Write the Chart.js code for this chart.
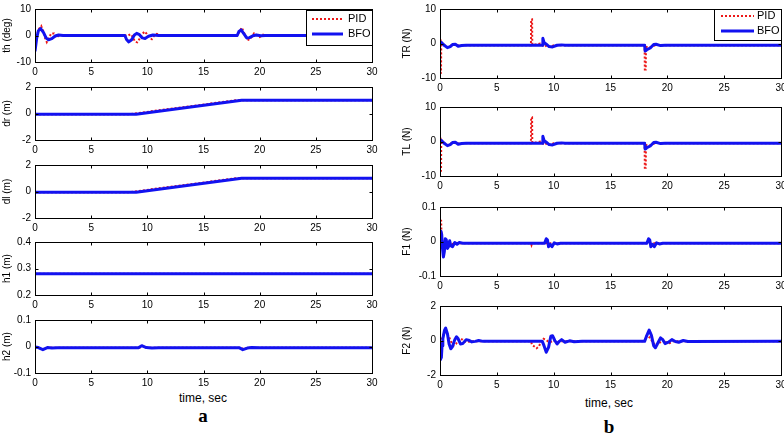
<!DOCTYPE html>
<html>
<head>
<meta charset="utf-8">
<script src="https://cdn.jsdelivr.net/npm/chart.js@4/dist/chart.umd.min.js"></script>
<style>
  body { margin: 0; background: #fff; width: 784px; height: 439px; position: relative; overflow: hidden; font-family: "Liberation Sans", Arial, sans-serif; }
  canvas { position: absolute; }
  .cap { position: absolute; transform: translate(-50%, -50%); white-space: nowrap; color: #000; }
  .xt { font-size: 12px; }
  .pl { font-family: "Liberation Serif", "DejaVu Serif", serif; font-weight: bold; font-size: 19px; }
</style>
</head>
<body>
<div class="cap xt" style="left:203px;top:398px">time, sec</div>
<div class="cap pl" style="left:203px;top:416px">a</div>
<div class="cap xt" style="left:609px;top:403px">time, sec</div>
<div class="cap pl" style="left:609px;top:427px">b</div>
<script>
// ---- data: [time (s), value] ----
const timeTicks = [0, 5, 10, 15, 20, 25, 30];

const thTicks = [-10, 0, 10];
const thPID = [[0,-5],[0.15,0],[0.35,2.5],[0.55,3.6],[0.75,1.5],[0.9,-1],[1.05,-2.5],[1.25,-0.8],[1.45,0.8],[1.7,0.8],[1.9,-0.8],[2.2,0.3],[2.6,-0.1],[3,0],
  [8.3,0],[8.5,0.5],[8.7,-0.5],[8.9,-2.3],[9.1,-2.6],[9.35,-1],[9.55,0.5],[9.75,1.5],[9.95,0.6],[10.2,-0.8],[10.4,-1.4],[10.65,0.2],[10.85,0.6],[11.1,0],
  [18,0],[18.2,1.5],[18.4,3],[18.6,1.2],[18.8,-1],[19,-1.6],[19.25,-0.8],[19.5,0.8],[19.75,0.2],[20,-0.6],[20.3,0.3],[20.6,-0.1],[21,0],[30,0]];
const thBFO = [[0,-6],[0.15,-1],[0.3,1.8],[0.5,2.6],[0.75,1.2],[1,-1],[1.2,-1.6],[1.5,-1.2],[1.8,-0.2],[2.1,0.2],[2.5,0],
  [8,0],[8.15,-1.5],[8.35,-2.4],[8.6,-1.6],[8.85,0.2],[9.05,0.8],[9.3,0.3],[9.55,-0.9],[9.8,-1.1],[10.1,-0.3],[10.5,0.2],[11,0],
  [18,0],[18.15,1.5],[18.35,2.1],[18.6,0.6],[18.85,-0.9],[19.1,-0.8],[19.4,-0.1],[19.7,0.2],[20.1,-0.1],[20.5,0],[30,0]];

const drTicks = [-2, 0, 2];
const drPID = [[0,-0.05],[8.4,-0.05],[17.9,1],[30,1]];
const drBFO = [[0,-0.05],[9,-0.05],[18.4,1],[30,1]];

const dlTicks = [-2, 0, 2];
const dlPID = [[0,-0.05],[8.4,-0.05],[17.9,1],[30,1]];
const dlBFO = [[0,-0.05],[9,-0.05],[18.4,1],[30,1]];

const h1Ticks = [0.2, 0.3, 0.4];
const h1PID = [[0,0.28],[30,0.28]];
const h1BFO = [[0,0.28],[30,0.28]];

const h2Ticks = [-0.1, 0, 0.1];
const h2PID = [[0,-0.002],[0.7,-0.01],[1.2,-0.004],[2,-0.005],[9.3,-0.005],[9.6,0.002],[10,-0.005],[18.3,-0.005],[18.6,-0.01],[19,-0.004],[19.5,-0.006],[20,-0.005],[30,-0.005]];
const h2BFO = [[0,-0.002],[0.3,-0.004],[0.7,-0.012],[1.1,-0.004],[1.5,-0.006],[2,-0.005],[9.2,-0.005],[9.5,0.003],[9.9,-0.004],[10.4,-0.006],[11,-0.005],
  [18.2,-0.005],[18.5,-0.012],[18.9,-0.006],[19.3,-0.004],[20,-0.005],[30,-0.005]];

const trTicks = [-10, 0, 10];
const trPID = [[0,1],[0.03,1],[0.05,-8.5],[0.09,-8.5],[0.11,0.5],[0.2,0],[0.5,-0.8],[0.8,-1.2],[1,-0.5],[1.3,-0.3],[1.6,-0.6],[2,-0.5],
  [8,-0.5],[8.02,7],[8.1,7],[8.12,-0.3],[8.5,-0.3],[8.8,0],[9,-0.5],[9.2,-1],[9.4,-0.5],[9.7,-1],[10,-0.5],
  [18,-0.5],[18.02,-7.5],[18.1,-7.5],[18.12,-1],[18.4,-1.2],[18.7,-0.8],[19,-0.4],[19.4,-0.5],[30,-0.5]];
const trBFO = [[0,0.5],[0.15,0.2],[0.4,-0.6],[0.65,-1.2],[0.9,-0.9],[1.1,-0.3],[1.35,-0.2],[1.6,-0.8],[1.9,-0.6],[2.3,-0.5],
  [9,-0.5],[9.05,1.5],[9.15,0.3],[9.35,-0.2],[9.6,-0.9],[9.9,-1],[10.3,-0.5],[10.7,-0.4],[11,-0.5],
  [18,-0.5],[18.05,-2.2],[18.2,-1.8],[18.5,-1.3],[18.8,-0.3],[19,-0.2],[19.4,-0.6],[19.8,-0.5],[30,-0.5]];

const tlTicks = [-10, 0, 10];
const tlPID = [[0,0.9],[0.03,0.9],[0.05,-8.5],[0.09,-8.5],[0.11,0.5],[0.2,0],[0.5,-0.8],[0.8,-1.2],[1,-0.5],[1.3,-0.3],[1.6,-0.6],[2,-0.5],
  [8,-0.5],[8.02,7],[8.1,7],[8.12,-0.3],[8.5,-0.3],[8.8,0],[9,-0.5],[9.2,-1],[9.4,-0.5],[9.7,-1],[10,-0.5],
  [18,-0.5],[18.02,-7.6],[18.1,-7.6],[18.12,-1],[18.4,-1.2],[18.7,-0.8],[19,-0.4],[19.4,-0.5],[30,-0.5]];
const tlBFO = [[0,0.5],[0.15,0.2],[0.4,-0.6],[0.65,-1.2],[0.9,-0.9],[1.1,-0.3],[1.35,-0.2],[1.6,-0.8],[1.9,-0.6],[2.3,-0.5],
  [9,-0.5],[9.05,1.5],[9.15,0.3],[9.35,-0.2],[9.6,-0.9],[9.9,-1],[10.3,-0.5],[10.7,-0.4],[11,-0.5],
  [18,-0.5],[18.05,-2.2],[18.2,-1.8],[18.5,-1.3],[18.8,-0.3],[19,-0.2],[19.4,-0.6],[19.8,-0.5],[30,-0.5]];

const f1Ticks = [-0.1, 0, 0.1];
const f1PID = [[0,0],[0.04,0.06],[0.1,0.06],[0.16,-0.02],[0.22,0],[0.3,-0.03],[0.42,0],[0.6,-0.015],[0.9,-0.01],[1.2,-0.006],[2,-0.005],
  [8,-0.005],[8.05,-0.01],[8.1,-0.005],[30,-0.005]];
const f1BFO = [[0,0],[0.08,0.03],[0.15,0.02],[0.22,-0.02],[0.3,-0.045],[0.38,-0.03],[0.47,0.008],[0.55,0.005],[0.65,-0.02],[0.75,-0.015],[0.85,0.002],[0.95,-0.012],
  [1.1,-0.015],[1.3,-0.003],[1.5,-0.008],[1.7,-0.003],[2,-0.005],
  [9.2,-0.005],[9.35,0.008],[9.45,0.005],[9.55,-0.015],[9.7,-0.008],[9.85,-0.015],[10.05,-0.004],[10.3,-0.007],[10.6,-0.005],
  [18.2,-0.005],[18.35,0.008],[18.45,0.005],[18.55,-0.015],[18.7,-0.008],[18.85,-0.015],[19.05,-0.004],[19.3,-0.007],[19.6,-0.005],[30,-0.005]];

const f2Ticks = [-2, 0, 2];
const f2PID = [[0,-0.4],[0.2,0.2],[0.4,0.5],[0.6,0.45],[0.8,0.2],[1,-0.1],[1.2,-0.3],[1.4,-0.2],[1.7,0.1],[2,0.05],[2.3,-0.1],[2.7,-0.05],
  [8,-0.05],[8.1,-0.25],[8.3,-0.35],[8.5,-0.45],[8.7,-0.35],[8.9,-0.05],[9.1,0.1],[9.3,0.05],[9.5,-0.05],[9.7,-0.1],[10,0],[10.3,-0.1],[10.7,-0.05],
  [18,-0.05],[18.2,0.3],[18.5,0.15],[18.7,-0.1],[19,-0.3],[19.3,-0.15],[19.6,0.05],[19.9,-0.1],[20.2,-0.15],[20.5,-0.05],[30,-0.05]];
const f2BFO = [[0,-0.2],[0.03,-1.1],[0.08,-0.4],[0.12,-1],[0.18,-0.3],[0.25,0.1],[0.4,0.6],[0.5,0.72],[0.65,0.4],[0.8,-0.2],[0.95,-0.48],[1.1,-0.35],
  [1.3,0.05],[1.45,0.22],[1.6,0.1],[1.8,-0.2],[2,-0.18],[2.3,0.05],[2.5,0.02],[2.8,-0.08],[3.1,-0.05],[3.4,0],[3.8,-0.05],
  [9,-0.05],[9.15,-0.3],[9.35,-0.68],[9.55,-0.4],[9.75,0.25],[9.9,0.28],[10.1,0],[10.3,-0.2],[10.5,-0.05],[10.7,0.05],[11,-0.1],[11.4,-0.02],[11.8,-0.07],[12.5,-0.05],
  [18,-0.05],[18.2,0.3],[18.4,0.6],[18.6,0.3],[18.8,-0.3],[18.95,-0.42],[19.2,-0.1],[19.4,0.15],[19.6,0.05],[19.8,-0.18],[20.1,-0.1],[20.4,0.05],[20.7,-0.06],
  [21,-0.1],[21.4,0],[21.8,-0.06],[30,-0.05]];

// ---- drawing ----
const FONT = "'Liberation Sans', Arial, sans-serif";
const RED = 'rgb(236,24,24)';
const BLUE = 'rgb(18,18,240)';

// matlab style box with inward ticks, plus optional legend
const boxPlugin = {
  id: 'matlabBox',
  afterDatasetsDraw(chart, args, opts) {
    const { ctx, chartArea: a, scales: { x, y } } = chart;
    const L = Math.round(a.left) + 0.5, R = Math.round(a.right) + 0.5;
    const T = Math.round(a.top) + 0.5, B = Math.round(a.bottom) + 0.5;
    ctx.save();
    ctx.strokeStyle = '#000';
    ctx.lineWidth = 1;
    ctx.beginPath();
    x.ticks.forEach(t => {
      const p = Math.round(x.getPixelForValue(t.value)) + 0.5;
      ctx.moveTo(p, B); ctx.lineTo(p, B - 3);
      ctx.moveTo(p, T); ctx.lineTo(p, T + 3);
    });
    y.ticks.forEach(t => {
      const p = Math.round(y.getPixelForValue(t.value)) + 0.5;
      ctx.moveTo(L, p); ctx.lineTo(L + 3, p);
      ctx.moveTo(R, p); ctx.lineTo(R - 3, p);
    });
    ctx.stroke();
    ctx.strokeRect(L, T, R - L, B - T);

    const lg = opts.legend;
    if (lg) {
      const bx = lg.x - chart.canvas.offsetLeft, by = lg.y - chart.canvas.offsetTop;
      ctx.fillStyle = '#fff';
      ctx.fillRect(bx, by, lg.w, lg.h);
      ctx.strokeRect(Math.round(bx) + 0.5, Math.round(by) + 0.5, lg.w, lg.h);
      chart.data.datasets.forEach((ds, i) => {
        const ly = by + lg.rows[i];
        ctx.setLineDash(ds.borderDash || []);
        ctx.strokeStyle = ds.borderColor;
        ctx.lineWidth = ds.borderWidth;
        ctx.beginPath();
        ctx.moveTo(bx + lg.s0, ly); ctx.lineTo(bx + lg.s1, ly);
        ctx.stroke();
        ctx.setLineDash([]);
        ctx.fillStyle = '#000';
        ctx.font = '11px ' + FONT;
        ctx.textBaseline = 'middle';
        ctx.fillText(ds.label, bx + lg.tx, ly);
      });
    }
    ctx.restore();
  }
};

function plot(p) {
  const padT = 6, xH = 20;
  const w = p.right - p.panel + p.padR;
  const h = padT + p.height + xH;
  const c = document.createElement('canvas');
  c.width = w; c.height = h;
  c.style.left = p.panel + 'px';
  c.style.top = (p.top - padT) + 'px';
  c.style.width = w + 'px'; c.style.height = h + 'px';
  document.body.appendChild(c);

  new Chart(c, {
    type: 'line',
    data: {
      datasets: [
        { label: 'PID', data: p.pid.map(([x, y]) => ({ x, y })), borderColor: RED, borderWidth: 2, borderDash: [2, 2], pointRadius: 0, order: 1 },
        { label: 'BFO', data: p.bfo.map(([x, y]) => ({ x, y })), borderColor: BLUE, borderWidth: 3, pointRadius: 0, order: 0, borderJoinStyle: 'round' }
      ]
    },
    options: {
      responsive: false,
      animation: false,
      events: [],
      layout: { padding: { top: padT, right: p.padR, left: 0, bottom: 0 } },
      plugins: {
        legend: { display: false },
        tooltip: { enabled: false },
        matlabBox: { legend: p.legend || null }
      },
      scales: {
        x: {
          type: 'linear', min: 0, max: 30,
          grid: { display: false, drawTicks: false },
          border: { display: false },
          ticks: { padding: 4, color: '#000', font: { size: 10, family: FONT }, maxRotation: 0, callback: v => String(v) },
          afterBuildTicks: s => { s.ticks = timeTicks.map(v => ({ value: v })); },
          afterFit: s => { s.height = xH; s.paddingLeft = 0; s.paddingRight = 0; }
        },
        y: {
          min: p.ticks[0], max: p.ticks[p.ticks.length - 1],
          grid: { display: false, drawTicks: false },
          border: { display: false },
          ticks: { padding: 4, color: '#000', font: { size: 10, family: FONT }, callback: v => String(v) },
          afterBuildTicks: s => { s.ticks = p.ticks.map(v => ({ value: v })); },
          afterFit: s => { s.width = p.left - p.panel; s.paddingTop = 0; s.paddingBottom = 0; },
          title: { display: true, text: p.label, color: '#000', font: { size: p.labelSize, family: FONT }, padding: { top: p.labelPad, bottom: 0 } }
        }
      }
    },
    plugins: [boxPlugin]
  });
}

const leftPanel = { panel: 0, left: 35, right: 372, padR: 14, height: 53, labelSize: 10, labelPad: 1 };
const rightPanel = { panel: 392, left: 440, right: 781, padR: 3, height: 69, labelSize: 10, labelPad: 9 };

plot({ ...leftPanel, top: 9, label: 'th (deg)', ticks: thTicks, pid: thPID, bfo: thBFO,
  legend: { x: 306, y: 10, w: 66, h: 35, rows: [9, 24], s0: 6, s1: 37, tx: 42 } });
plot({ ...leftPanel, top: 87, label: 'dr (m)', ticks: drTicks, pid: drPID, bfo: drBFO });
plot({ ...leftPanel, top: 165, label: 'dl (m)', ticks: dlTicks, pid: dlPID, bfo: dlBFO });
plot({ ...leftPanel, top: 242, label: 'h1 (m)', ticks: h1Ticks, pid: h1PID, bfo: h1BFO });
plot({ ...leftPanel, top: 320, label: 'h2 (m)', ticks: h2Ticks, pid: h2PID, bfo: h2BFO });

plot({ ...rightPanel, top: 9, label: 'TR (N)', ticks: trTicks, pid: trPID, bfo: trBFO,
  legend: { x: 714, y: 9, w: 67, h: 31, rows: [7, 22], s0: 7, s1: 40, tx: 43 } });
plot({ ...rightPanel, top: 107, label: 'TL (N)', ticks: tlTicks, pid: tlPID, bfo: tlBFO });
plot({ ...rightPanel, top: 207, label: 'F1 (N)', ticks: f1Ticks, pid: f1PID, bfo: f1BFO });
plot({ ...rightPanel, top: 306, label: 'F2 (N)', ticks: f2Ticks, pid: f2PID, bfo: f2BFO });
</script>
</body>
</html>
